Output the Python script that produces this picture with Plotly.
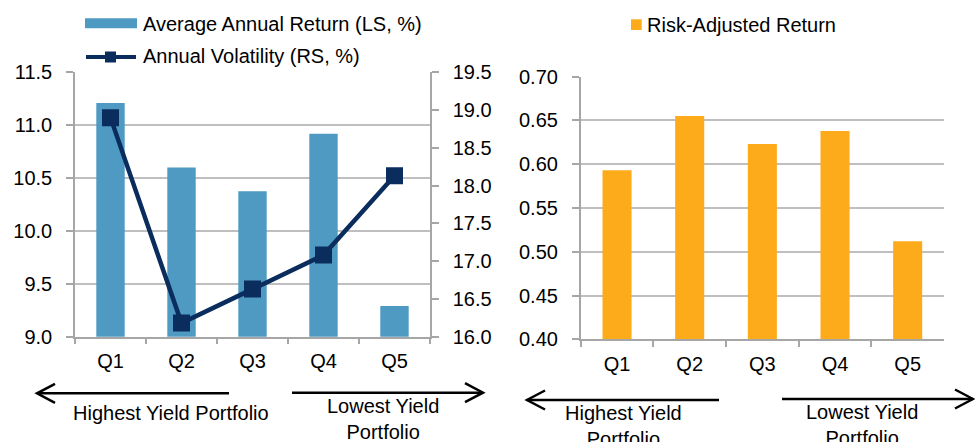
import plotly.graph_objects as go

categories = ["Q1", "Q2", "Q3", "Q4", "Q5"]
avg_return = [11.21, 10.60, 10.375, 10.92, 9.29]
volatility = [18.90, 16.18, 16.63, 17.08, 18.13]
risk_adjusted = [0.593, 0.655, 0.623, 0.638, 0.512]

legend_left = ["Average Annual Return (LS, %)", "Annual Volatility (RS, %)"]
legend_right = ["Risk-Adjusted Return"]

W, H = 975, 442
BLUE = "#4E9AC3"
NAVY = "#0A2D5E"
ORANGE = "#FDAB1B"
GRID = "#BFBFBF"
AX = "#A6A6A6"
FONT = dict(family="Arial, Liberation Sans, sans-serif", size=20, color="#000000")


def px(x):
    return x / W


def py(y):
    return 1 - y / H


fig = go.Figure()
fig.add_trace(go.Bar(x=categories, y=avg_return, xaxis="x", yaxis="y",
                     marker=dict(color=BLUE, line=dict(width=0)), name=legend_left[0],
                     showlegend=False))
fig.add_trace(go.Scatter(x=categories, y=volatility, xaxis="x", yaxis="y2",
                         mode="lines+markers", name=legend_left[1],
                         line=dict(color=NAVY, width=4.5),
                         marker=dict(symbol="square", size=17, color=NAVY),
                         showlegend=False))
fig.add_trace(go.Bar(x=categories, y=risk_adjusted, xaxis="x2", yaxis="y3",
                     marker=dict(color=ORANGE, line=dict(width=0)), name=legend_right[0],
                     showlegend=False))

common_x = dict(type="category", tickson="boundaries", ticks="outside", ticklen=6,
                tickcolor=AX, tickwidth=1.5, showline=True, linecolor=AX, linewidth=1.5,
                showgrid=False, tickfont=FONT, ticklabelstandoff=6, fixedrange=True,
                automargin=False)
common_y = dict(ticks="outside", ticklen=7, tickcolor=AX, tickwidth=1.5, showline=True,
                linecolor=AX, linewidth=1.5, gridcolor=GRID, gridwidth=1.5,
                zeroline=False, tickfont=FONT, ticklabelstandoff=10, fixedrange=True,
                automargin=False)

fig.update_layout(
    template="none",
    width=W, height=H, margin=dict(l=0, r=0, t=0, b=0, pad=0), autosize=False,
    paper_bgcolor="white", plot_bgcolor="white", bargap=0.6, font=FONT,
    showlegend=False,
    xaxis=dict(domain=[px(75), px(430)], anchor="y", **common_x),
    yaxis=dict(domain=[py(336.7), py(72.3)], anchor="x", range=[9, 11.5], tick0=9,
               dtick=0.5, tickformat=".1f", showgrid=True, **common_y),
    yaxis2=dict(overlaying="y", side="right", anchor="x", range=[16, 19.5], tick0=16,
                dtick=0.5, tickformat=".1f", showgrid=False, **common_y),
    xaxis2=dict(domain=[px(580.7), px(944)], anchor="y3", **common_x),
    yaxis3=dict(domain=[py(339.3), py(76.7)], anchor="x2", range=[0.40, 0.70], tick0=0.4,
                dtick=0.05, tickformat=".2f", showgrid=True, **common_y),
)

shapes = []
annotations = []

# Manual legend – left chart
shapes.append(dict(type="rect", xref="paper", yref="paper", x0=px(85), x1=px(137),
                   y0=py(28.3), y1=py(18.3), fillcolor=BLUE, line=dict(width=0)))
shapes.append(dict(type="line", xref="paper", yref="paper", x0=px(86), x1=px(136),
                   y0=py(57), y1=py(57), line=dict(color=NAVY, width=4)))
shapes.append(dict(type="rect", xref="paper", yref="paper", x0=px(105), x1=px(116),
                   y0=py(62.5), y1=py(51.5), fillcolor=NAVY, line=dict(width=0)))
annotations.append(dict(text=legend_left[0], x=px(141), y=py(23.5), xref="paper", yref="paper",
                        xanchor="left", yanchor="middle", showarrow=False, font=FONT))
annotations.append(dict(text=legend_left[1], x=px(141), y=py(56.5), xref="paper", yref="paper",
                        xanchor="left", yanchor="middle", showarrow=False, font=FONT))

# Manual legend – right chart
shapes.append(dict(type="rect", xref="paper", yref="paper", x0=px(631), x1=px(641.7),
                   y0=py(30), y1=py(19.3), fillcolor=ORANGE, line=dict(width=0)))
annotations.append(dict(text=legend_right[0], x=px(645), y=py(25), xref="paper", yref="paper",
                        xanchor="left", yanchor="middle", showarrow=False, font=FONT))


def arrow(x_from, x_to, y, tip_left):
    shapes.append(dict(type="line", xref="paper", yref="paper", x0=px(x_from), x1=px(x_to),
                       y0=py(y), y1=py(y), line=dict(color="#000000", width=2.5)))
    if tip_left:
        tx, ax = x_from, x_from + 18
    else:
        tx, ax = x_to, x_to - 18
    path = f"M {px(ax)},{py(y - 9.5)} L {px(tx)},{py(y)} L {px(ax)},{py(y + 9.5)}"
    shapes.append(dict(type="path", xref="paper", yref="paper", path=path,
                       line=dict(color="#000000", width=2.5)))


def label(text, x, y):
    annotations.append(dict(text=text, x=px(x), y=py(y), xref="paper", yref="paper",
                            xanchor="center", yanchor="middle", showarrow=False, font=FONT))


# Bottom arrows and captions – left chart
arrow(37, 229, 393.3, True)
arrow(292, 483, 392.7, False)
label("Highest Yield Portfolio", 171, 413)
label("Lowest Yield<br>Portfolio", 383, 419)

# Bottom arrows and captions – right chart
arrow(527, 719, 400, True)
arrow(782, 973, 399, False)
label("Highest Yield<br>Portfolio", 623, 426)
label("Lowest Yield<br>Portfolio", 862, 425)

fig.update_layout(shapes=shapes, annotations=annotations)

fig.write_html("out.html")
